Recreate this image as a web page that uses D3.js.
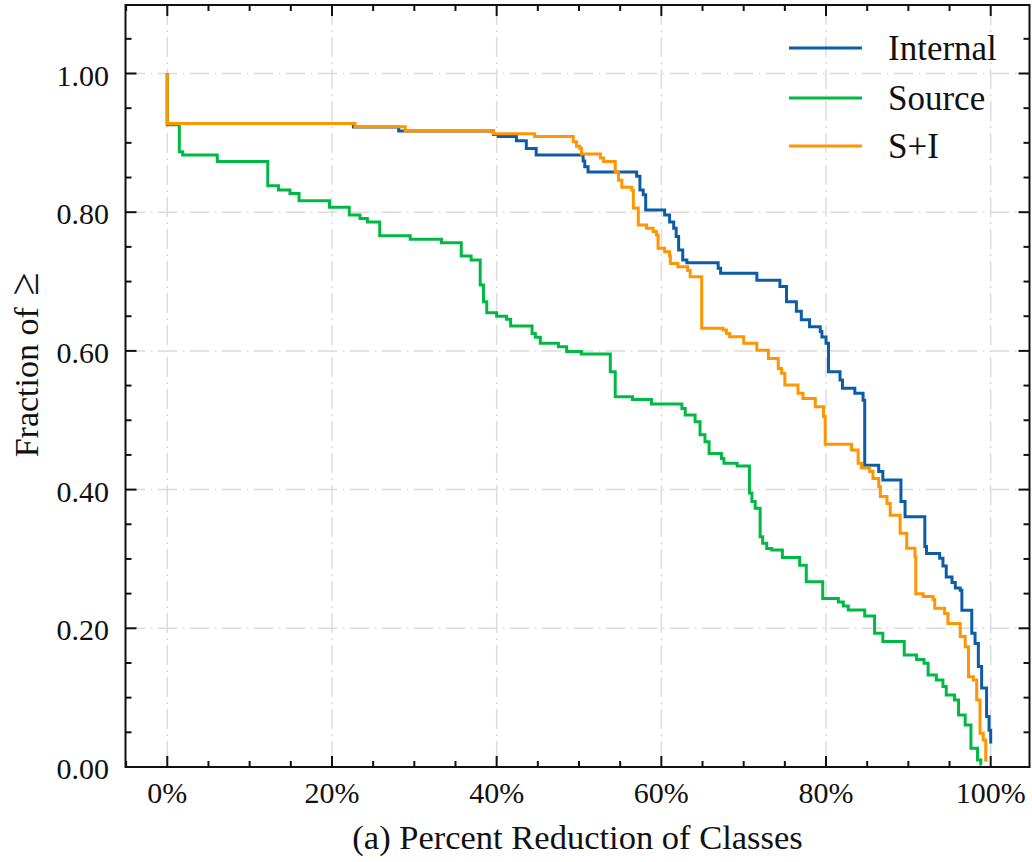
<!DOCTYPE html>
<html>
<head>
<meta charset="utf-8">
<script src="https://cdn.jsdelivr.net/npm/d3@7"></script>
<style>
  html, body { margin: 0; padding: 0; background: #fff; }
  svg text { font-family: "Liberation Serif", "DejaVu Serif", serif; fill: #111; }
</style>
</head>
<body>
<svg id="chart" width="1032" height="862"></svg>
<script>
'use strict';

// ── Data (step points: x = % reduction, y = fraction ≥) ──
const internalX = [0, 0, 22.6, 28.1, 39.6, 40.2, 42.4, 43.6, 44.8, 50.5, 50.7, 51.1, 57.0, 57.4, 57.8, 58.1,
  60.4, 61.0, 61.5, 61.8, 62.1, 62.6, 63.1, 66.9, 67.2, 71.6, 74.4, 75.2, 76.4, 77.0, 78.0, 79.3, 79.5,
  80.0, 80.3, 81.7, 82.0, 83.5, 84.5, 84.7, 86.4, 86.9, 89.1, 89.6, 92.0, 92.2, 93.8, 94.2, 94.6, 95.3,
  95.7, 96.3, 96.5, 97.7, 98.1, 98.5, 98.9, 99.5, 99.8, 100.0];
const internalY = [1.0, 0.928, 0.923, 0.917, 0.912, 0.909, 0.903, 0.892, 0.8825, 0.874, 0.8656, 0.858, 0.852, 0.832, 0.825, 0.803,
  0.796, 0.786, 0.777, 0.765, 0.7455, 0.731, 0.727, 0.719, 0.712, 0.702, 0.693, 0.671, 0.657, 0.645, 0.635, 0.628, 0.620,
  0.611, 0.570, 0.558, 0.546, 0.539, 0.529, 0.435, 0.426, 0.414, 0.383, 0.361, 0.318, 0.308, 0.301, 0.290, 0.274, 0.266,
  0.258, 0.255, 0.226, 0.193, 0.178, 0.145, 0.114, 0.073, 0.053, 0.034];

const sourceX = [0, 0, 1.46, 1.87, 6.07, 12.2, 13.5, 14.9, 16.0, 19.7, 22.1, 23.4, 24.3, 25.8, 29.5, 33.3, 35.7, 36.9,
  38.0, 38.4, 38.8, 40.0, 41.2, 41.7, 44.3, 44.7, 45.3, 47.5, 48.5, 50.3, 53.8, 54.4, 56.5, 58.8, 62.5, 62.9,
  64.1, 64.7, 65.3, 65.8, 67.3, 67.6, 69.2, 70.7, 71.0, 71.4, 72.0, 72.3, 72.8, 73.4, 74.7, 76.8, 77.6, 79.6,
  81.5, 82.1, 82.7, 84.7, 85.9, 86.9, 89.5, 91.0, 91.9, 92.4, 93.4, 94.2, 94.6, 95.6, 96.1, 96.9, 97.6, 98.4, 98.8, 98.9];
const sourceY = [1.0, 0.926, 0.887, 0.8825, 0.873, 0.838, 0.832, 0.827, 0.8166, 0.807, 0.796, 0.791, 0.786, 0.766, 0.761, 0.756, 0.737, 0.731,
  0.695, 0.671, 0.655, 0.650, 0.6455, 0.636, 0.625, 0.6196, 0.611, 0.606, 0.599, 0.5955, 0.570, 0.534, 0.530, 0.5234, 0.517, 0.5076,
  0.498, 0.479, 0.469, 0.452, 0.445, 0.438, 0.434, 0.395, 0.383, 0.373, 0.332, 0.3226, 0.315, 0.313, 0.302, 0.291, 0.267, 0.243,
  0.238, 0.232, 0.2264, 0.2177, 0.193, 0.181, 0.1615, 0.155, 0.1495, 0.1327, 0.1255, 0.116, 0.104, 0.0966, 0.075, 0.0606, 0.027, 0.010, 0.004, 0.004];

const bothX = [0, 0, 22.8, 28.9, 39.6, 44.6, 49.3, 49.7, 50.1, 50.3, 52.6, 53.0, 54.4, 54.8, 55.2, 56.4, 56.6, 57.2,
  58.2, 59.0, 59.4, 59.6, 60.4, 61.0, 61.1, 62.0, 63.2, 63.5, 64.9, 67.5, 67.9, 68.3, 70.0, 71.6, 73.0, 74.2,
  74.6, 75.0, 76.6, 77.2, 78.7, 79.7, 79.9, 83.1, 83.9, 84.3, 85.3, 85.7, 86.4, 86.6, 87.4, 87.8, 89.0, 89.8,
  90.8, 90.9, 91.8, 93.0, 93.2, 94.4, 94.8, 96.3, 96.9, 97.3, 97.9, 98.3, 98.7, 99.1, 99.4, 99.6];
const bothY = [1.0, 0.928, 0.9233, 0.917, 0.913, 0.909, 0.9017, 0.895, 0.892, 0.884, 0.878, 0.873, 0.858, 0.846, 0.836, 0.832, 0.806, 0.7815,
  0.777, 0.772, 0.767, 0.748, 0.743, 0.737, 0.726, 0.7215, 0.716, 0.707, 0.6325, 0.630, 0.625, 0.6205, 0.611, 0.601, 0.589, 0.5745,
  0.5677, 0.551, 0.539, 0.5315, 0.5195, 0.505, 0.4655, 0.457, 0.438, 0.431, 0.426, 0.416, 0.404, 0.390, 0.380, 0.363, 0.337, 0.3155,
  0.303, 0.250, 0.246, 0.2415, 0.229, 0.2215, 0.207, 0.188, 0.1735, 0.130, 0.1255, 0.0966, 0.0486, 0.039, 0.0098, 0.0098];

const seriesNames  = ['Internal', 'Source', 'S+I'];
const seriesColors = ['#0C5DA5', '#00B945', '#FF9500'];
const xTicks = [0, 20, 40, 60, 80, 100];
const yTicks = [0, 0.2, 0.4, 0.6, 0.8, 1.0];

// ── Layout ──────────────────────────────────────────────
const box = { left: 125.5, right: 1029.5, top: 5, bottom: 767 };
const svg = d3.select('#chart');

const x = d3.scaleLinear().domain([0, 100]).range([167.3, 990.7]);
const y = d3.scaleLinear().domain([0, 1]).range([767, 73.5]);

const gridColor = '#dcdcdc';

// grid
svg.append('g').selectAll('line').data(xTicks).join('line')
  .attr('x1', d => x(d)).attr('x2', d => x(d))
  .attr('y1', box.top).attr('y2', box.bottom)
  .attr('stroke', gridColor).attr('stroke-width', 1.5)
  .attr('stroke-dasharray', '20,5,2,5');
svg.append('g').selectAll('line').data(yTicks).join('line')
  .attr('x1', box.left).attr('x2', box.right)
  .attr('y1', d => y(d)).attr('y2', d => y(d))
  .attr('stroke', gridColor).attr('stroke-width', 1.5)
  .attr('stroke-dasharray', '20,5,2,5');

// lines
const lineGen = d3.line()
  .x(d => x(d[0]))
  .y(d => y(d[1]))
  .curve(d3.curveStepAfter);

const series = [
  d3.zip(internalX, internalY),
  d3.zip(sourceX, sourceY),
  d3.zip(bothX, bothY)
];

series.forEach((pts, i) => {
  svg.append('path')
    .datum(pts)
    .attr('d', lineGen)
    .attr('fill', 'none')
    .attr('stroke', seriesColors[i])
    .attr('stroke-width', 3)
    .attr('stroke-linejoin', 'miter');
});

// ticks (inward, all four sides)
const xMinor = d3.range(-5, 106, 5).filter(d => d % 20 !== 0);
const yMinor = d3.range(0, 1.101, 0.05).filter(d => Math.abs(d * 5 - Math.round(d * 5)) > 1e-6);

function vTicks(vals, len) {
  [box.bottom, box.top].forEach((y0, k) => {
    svg.append('g').selectAll('line').data(vals).join('line')
      .attr('x1', d => x(d)).attr('x2', d => x(d))
      .attr('y1', y0).attr('y2', k === 0 ? y0 - len : y0 + len)
      .attr('stroke', '#111').attr('stroke-width', 2);
  });
}
function hTicks(vals, len) {
  [box.left, box.right].forEach((x0, k) => {
    svg.append('g').selectAll('line').data(vals).join('line')
      .attr('y1', d => y(d)).attr('y2', d => y(d))
      .attr('x1', x0).attr('x2', k === 0 ? x0 + len : x0 - len)
      .attr('stroke', '#111').attr('stroke-width', 2);
  });
}
vTicks(xTicks, 11);
vTicks(xMinor.filter(d => x(d) > box.left && x(d) < box.right), 6);
hTicks(yTicks, 11);
hTicks(yMinor.filter(d => y(d) > box.top + 1), 6);

// frame
svg.append('rect')
  .attr('x', box.left).attr('y', box.top)
  .attr('width', box.right - box.left).attr('height', box.bottom - box.top)
  .attr('fill', 'none').attr('stroke', '#111').attr('stroke-width', 2);

// tick labels
svg.append('g').selectAll('text').data(xTicks).join('text')
  .attr('x', d => x(d)).attr('y', 803)
  .attr('text-anchor', 'middle')
  .attr('font-size', 30)
  .text(d => d + '%');

svg.append('g').selectAll('text').data(yTicks).join('text')
  .attr('x', 109).attr('y', d => y(d) + 12)
  .attr('text-anchor', 'end')
  .attr('font-size', 30)
  .text(d => d3.format('.2f')(d));

// axis labels
svg.append('text')
  .attr('x', (box.left + box.right) / 2).attr('y', 849)
  .attr('text-anchor', 'middle')
  .attr('font-size', 34.5)
  .text('(a) Percent Reduction of Classes');

const yLabel = svg.append('text')
  .attr('transform', 'translate(38,365) rotate(-90)')
  .attr('text-anchor', 'middle')
  .attr('font-size', 34);
yLabel.append('tspan').text('Fraction of ');
yLabel.append('tspan').attr('font-size', 42).attr('dx', 3).text('≥');

// legend
const legendY = [48, 98, 146];
seriesNames.forEach((name, i) => {
  svg.append('line')
    .attr('x1', 789).attr('x2', 862)
    .attr('y1', legendY[i]).attr('y2', legendY[i])
    .attr('stroke', seriesColors[i]).attr('stroke-width', 3);
  svg.append('text')
    .attr('x', 888).attr('y', legendY[i] + 12)
    .attr('font-size', 35)
    .text(name);
});
</script>
</body>
</html>
